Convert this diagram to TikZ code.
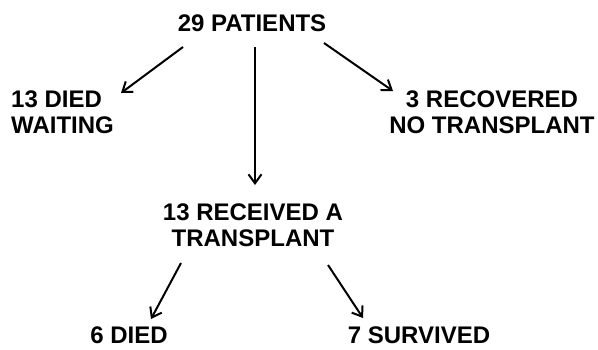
\documentclass[tikz,border=0pt]{standalone}
\usepackage{fontspec}
\setmainfont{Liberation Sans}
\usetikzlibrary{arrows.meta}
\begin{document}
\begin{tikzpicture}[x=1pt,y=-1pt,
  lbl/.style={inner sep=0pt, font=\bfseries\fontsize{24}{26}\selectfont, text=black},
  arr/.style={line width=2pt, -{Straight Barb[length=9pt,width=13pt,line width=2pt]}}]
\useasboundingbox (0,0) rectangle (598,349);
\node[lbl] (p) at (252,23) {29 PATIENTS};
\node[lbl, align=left, anchor=west] (w) at (11,112) {13 DIED\\WAITING};
\node[lbl, align=center] (r) at (492,112) {3 RECOVERED\\NO TRANSPLANT};
\node[lbl, align=center] (t) at (253,225) {13 RECEIVED A\\TRANSPLANT};
\node[lbl] (d) at (129,335) {6 DIED};
\node[lbl] (s) at (419,335) {7 SURVIVED};
\coordinate (a1s) at (183,47); \coordinate (a1e) at (121,93);
\coordinate (a2s) at (324,43); \coordinate (a2e) at (393,91);
\coordinate (a3s) at (255,47); \coordinate (a3e) at (255,185);
\coordinate (a4s) at (181,263); \coordinate (a4e) at (151,319);
\coordinate (a5s) at (328,265); \coordinate (a5e) at (363,318);
\draw[arr] (a1s) -- (a1e);
\draw[arr] (a2s) -- (a2e);
\draw[arr] (a3s) -- (a3e);
\draw[arr] (a4s) -- (a4e);
\draw[arr] (a5s) -- (a5e);
\end{tikzpicture}
\end{document}
